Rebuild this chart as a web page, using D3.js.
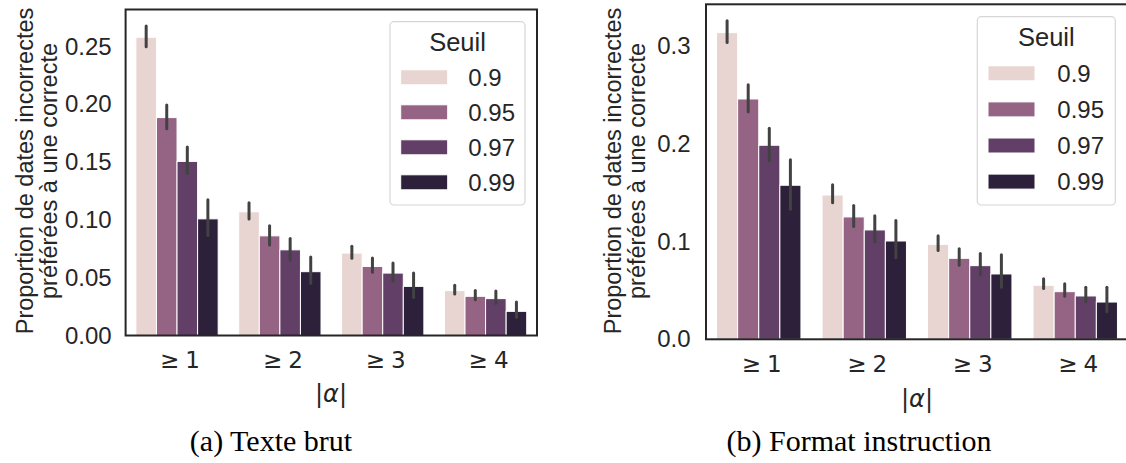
<!DOCTYPE html>
<html>
<head>
<meta charset="utf-8">
<script src="https://cdn.jsdelivr.net/npm/d3@7"></script>
<style>
  body { margin: 0; background: #fff; }
  svg { display: block; }
  .tick-y { font-family: 'Liberation Sans', Arial, sans-serif; font-size: 24px; fill: #262626; }
  .tick-x { font-family: 'DejaVu Sans', sans-serif; font-size: 23px; fill: #262626; }
  .etiquette { font-family: 'Liberation Sans', Arial, sans-serif; font-size: 23.5px; fill: #262626; }
  .legende { font-family: 'Liberation Sans', Arial, sans-serif; font-size: 24px; fill: #262626; }
  .titre-legende { font-family: 'Liberation Sans', Arial, sans-serif; font-size: 25.5px; fill: #262626; }
  .alpha { font-family: 'DejaVu Sans', sans-serif; font-size: 24px; fill: #262626; }
  .legende-fig { font-family: 'Liberation Serif', 'Times New Roman', serif; font-size: 30px; fill: #000; }
</style>
</head>
<body>
<div id="graf"></div>
<script>
// Données
categories = ['≥ 1', '≥ 2', '≥ 3', '≥ 4']
seuils = ['0.9', '0.95', '0.97', '0.99']
couleurs = ['#e8d4d0', '#956383', '#613f66', '#2d203a']

// (a) Texte brut : moyenne, bas et haut de l'intervalle, par seuil
brut_moy = [
  [0.258, 0.107, 0.0713, 0.0388],
  [0.1885, 0.0862, 0.0597, 0.0339],
  [0.1506, 0.0741, 0.054, 0.0319],
  [0.1009, 0.0552, 0.0425, 0.0209]
]
brut_bas = [
  [0.2485, 0.0994, 0.0655, 0.0345],
  [0.1776, 0.077, 0.0534, 0.0296],
  [0.1388, 0.0641, 0.0459, 0.0267],
  [0.0851, 0.044, 0.0316, 0.0144]
]
brut_haut = [
  [0.269, 0.1161, 0.0784, 0.0448],
  [0.2006, 0.0963, 0.0684, 0.0403],
  [0.1644, 0.0851, 0.0641, 0.0397],
  [0.1187, 0.0692, 0.0554, 0.0302]
]
brut_ticks = [0, 0.05, 0.10, 0.15, 0.20, 0.25]

// (b) Format instruction
instr_moy = [
  [0.3135, 0.1475, 0.0971, 0.0552],
  [0.2457, 0.1251, 0.0828, 0.0487],
  [0.1984, 0.1118, 0.0753, 0.0443],
  [0.1575, 0.1005, 0.0668, 0.0381]
]
instr_bas = [
  [0.3019, 0.138, 0.0893, 0.0504],
  [0.2311, 0.1138, 0.0742, 0.0425],
  [0.181, 0.0982, 0.0647, 0.0368],
  [0.1315, 0.0818, 0.0517, 0.0266]
]
instr_haut = [
  [0.3272, 0.1595, 0.1074, 0.0634],
  [0.2618, 0.1383, 0.0941, 0.0583],
  [0.2174, 0.1278, 0.0893, 0.0548],
  [0.1851, 0.123, 0.0879, 0.0548]
]
instr_ticks = [0, 0.1, 0.2, 0.3]

// Configuration
ancho_total = 1126
alto_total = 463

svg = d3.select('#graf').append('svg')
        .attr('width', ancho_total)
        .attr('height', alto_total)

function panneau(p) {
  g = svg.append('g')

  x = d3.scaleBand()
        .domain(categories)
        .range([p.gauche, p.droite])
        .padding(0)

  xs = d3.scaleBand()
         .domain(seuils)
         .range([x.bandwidth() * 0.1, x.bandwidth() * 0.9])

  y = d3.scaleLinear()
        .domain([0, p.ymax])
        .range([p.bas, p.haut])

  rows = []
  seuils.forEach((s, i) => {
    categories.forEach((c, j) => {
      rows.push({ cat: c, seuil: s, i: i, v: p.moy[i][j], lo: p.bas_ic[i][j], hi: p.haut_ic[i][j] })
    })
  })

  g.selectAll('rect.barre')
   .data(rows)
   .enter()
   .append('rect')
     .attr('class', 'barre')
     .attr('x', d => x(d.cat) + xs(d.seuil))
     .attr('y', d => y(d.v))
     .attr('width', xs.bandwidth())
     .attr('height', d => y(0) - y(d.v))
     .attr('fill', d => couleurs[d.i])
     .attr('stroke', '#fff')
     .attr('stroke-width', 1)

  g.selectAll('line.erreur')
   .data(rows)
   .enter()
   .append('line')
     .attr('class', 'erreur')
     .attr('x1', d => x(d.cat) + xs(d.seuil) + xs.bandwidth() / 2)
     .attr('x2', d => x(d.cat) + xs(d.seuil) + xs.bandwidth() / 2)
     .attr('y1', d => y(d.lo) - 1.5)
     .attr('y2', d => y(d.hi) + 1.5)
     .attr('stroke', '#424242')
     .attr('stroke-width', 3)
     .attr('stroke-linecap', 'round')

  // cadre
  g.append('rect')
   .attr('x', p.gauche)
   .attr('y', p.haut)
   .attr('width', p.droite - p.gauche)
   .attr('height', p.bas - p.haut)
   .attr('fill', 'none')
   .attr('stroke', '#262626')
   .attr('stroke-width', 2)

  // axe y
  yAxisGroup = g.append('g')
                .attr('transform', `translate(${p.gauche}, 0)`)
  yAxisGroup.call(d3.axisLeft(y).tickValues(p.ticks).tickSize(0).tickPadding(p.ecart)
                    .tickFormat(p.format))
  yAxisGroup.select('.domain').remove()
  yAxisGroup.selectAll('text')
            .attr('class', 'tick-y')
            .attr('font-size', null)
            .attr('font-family', null)

  // axe x
  xAxisGroup = g.append('g')
                .attr('transform', `translate(0, ${p.bas})`)
  xAxisGroup.call(d3.axisBottom(x).tickSize(0).tickPadding(16.5))
  xAxisGroup.select('.domain').remove()
  xAxisGroup.selectAll('text')
            .attr('class', 'tick-x')
            .attr('font-size', null)
            .attr('font-family', null)
            .attr('dx', '3px')
            .each(function(d) {
              parts = d.split(' ')
              el = d3.select(this).text('')
              el.append('tspan').text(parts[0])
              el.append('tspan').attr('dx', '6px').text(parts[1])
            })

  // titre de l'axe x
  t = g.append('text')
       .attr('class', 'alpha')
       .attr('x', p.alphaX)
       .attr('y', p.alphaY)
       .attr('text-anchor', 'middle')
       .attr('dominant-baseline', 'central')
  t.append('tspan').text('|')
  t.append('tspan').attr('font-style', 'italic').text('α')
  t.append('tspan').text('|')

  // titre de l'axe y
  lab = g.append('text')
         .attr('class', 'etiquette')
         .attr('transform', `translate(${p.labX}, ${p.labY}) rotate(-90)`)
         .attr('text-anchor', 'middle')
         .attr('dominant-baseline', 'central')
  lab.append('tspan').attr('x', 0).attr('y', 0).text('Proportion de dates incorrectes')
  lab.append('tspan').attr('x', 0).attr('y', 24).text('préférées à une correcte')

  // légende
  leg = g.append('g')
  leg.append('rect')
     .attr('x', p.leg.x)
     .attr('y', p.leg.y)
     .attr('width', p.leg.w)
     .attr('height', p.leg.h)
     .attr('rx', 4)
     .attr('fill', '#fff')
     .attr('stroke', '#d6d6d6')
     .attr('stroke-width', 1.2)
  leg.append('text')
     .attr('class', 'titre-legende')
     .attr('x', p.leg.x + p.leg.w / 2)
     .attr('y', p.leg.titreY)
     .attr('text-anchor', 'middle')
     .attr('dominant-baseline', 'central')
     .text('Seuil')
  seuils.forEach((s, i) => {
    cy = p.leg.ligne0 + i * p.leg.pas
    leg.append('rect')
       .attr('x', p.leg.px)
       .attr('y', cy - 7.5)
       .attr('width', 47)
       .attr('height', 15)
       .attr('fill', couleurs[i])
       .attr('stroke', '#fff')
       .attr('stroke-width', 1)
    leg.append('text')
       .attr('class', 'legende')
       .attr('x', p.leg.tx)
       .attr('y', cy)
       .attr('dominant-baseline', 'central')
       .text(s)
  })

  // légende de la sous-figure
  g.append('text')
   .attr('class', 'legende-fig')
   .attr('x', p.capX)
   .attr('y', p.capY)
   .attr('text-anchor', 'middle')
   .attr('dominant-baseline', 'central')
   .text(p.caption)
}

panneau({
  gauche: 125.6, droite: 537, haut: 9.5, bas: 335.5, ymax: 0.282,
  moy: brut_moy, bas_ic: brut_bas, haut_ic: brut_haut,
  ticks: brut_ticks, format: d3.format('.2f'), ecart: 14,
  alphaX: 331, alphaY: 394,
  labX: 25, labY: 171,
  leg: { x: 390, y: 21.7, w: 135, h: 183.3, titreY: 41.7, ligne0: 77.3, pas: 35, px: 400.7, tx: 468.3 },
  capX: 271, capY: 440, caption: '(a) Texte brut'
})

panneau({
  gauche: 706, droite: 1128, haut: 4.3, bas: 339.3, ymax: 0.3425,
  moy: instr_moy, bas_ic: instr_bas, haut_ic: instr_haut,
  ticks: instr_ticks, format: d3.format('.1f'), ecart: 15.5,
  alphaX: 917, alphaY: 399,
  labX: 613, labY: 171,
  leg: { x: 977.3, y: 16.7, w: 138, h: 188.3, titreY: 36.7, ligne0: 73.3, pas: 36.1, px: 988, tx: 1057.3 },
  capX: 859, capY: 440, caption: '(b) Format instruction'
})
</script>
</body>
</html>
